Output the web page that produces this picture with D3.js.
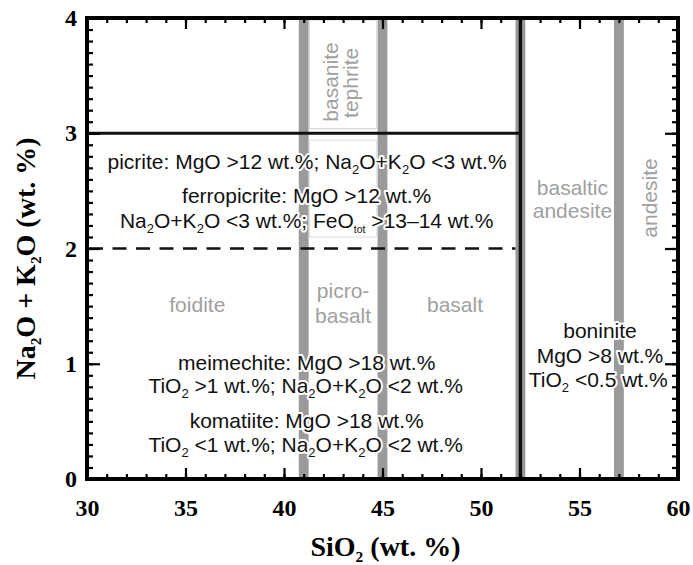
<!DOCTYPE html>
<html>
<head>
<meta charset="utf-8">
<script src="https://cdn.jsdelivr.net/npm/d3@7"></script>
<style>
  html, body { margin: 0; padding: 0; background: #fff; }
  svg { display: block; }
</style>
</head>
<body>
<svg id="chart" width="693" height="565"></svg>
<script>
// ---- data -------------------------------------------------------------
const siO2Domain = [30, 60];
const alkaliDomain = [0, 4];
const xMajorTicks = [30, 35, 40, 45, 50, 55, 60];
const yMajorTicks = [0, 1, 2, 3, 4];
const xMinorTicks = d3.range(30, 61, 1);
const yMinorTicks = d3.range(0, 41, 1).map(d => d / 10);
// SiO2 boundaries between the TAS fields (wt.%)
const fieldBoundariesSiO2 = [41, 45, 52, 57];
const ultramaficMaxSiO2 = 52;
// alkali limits (wt.%)
const picriteAlkaliMax = 3;
const komatiiteAlkaliMax = 2;

// ---- layout -----------------------------------------------------------
const svg = d3.select("#chart");
const x = d3.scaleLinear().domain(siO2Domain).range([87, 678]);
const y = d3.scaleLinear().domain(alkaliDomain).range([479, 18]);

const SANS = "'Liberation Sans', Arial, Helvetica, sans-serif";
const SERIF = "'Liberation Serif', 'Times New Roman', serif";
const GREY_BAND = "#9a9a9a";
const GREY_TEXT = "#a0a0a0";

svg.append("rect").attr("width", 693).attr("height", 565).attr("fill", "#fff");

// rich text helper: parts are strings or {sub: "..."}
function rich(textSel, parts, fontSize) {
  parts.forEach(p => {
    if (typeof p === "string") {
      textSel.append("tspan").text(p);
    } else {
      textSel.append("tspan")
        .attr("font-size", (p.scale || 0.62) * fontSize)
        .attr("baseline-shift", -fontSize * (p.shift || 0.22))
        .text(p.sub);
    }
  });
  return textSel;
}

// ---- field boundaries ------------------------------------------------
const plot = svg.append("g");

plot.selectAll("rect.band")
  .data(fieldBoundariesSiO2)
  .join("rect")
  .attr("class", "band")
  .attr("x", d => x(d - 0.25))
  .attr("width", d => x(d + 0.25) - x(d - 0.25))
  .attr("y", y(alkaliDomain[1]))
  .attr("height", y(alkaliDomain[0]) - y(alkaliDomain[1]))
  .attr("fill", GREY_BAND);

// light panels between the 41 and 45 boundaries
plot.append("rect")
  .attr("x", x(41.25) + 0.8).attr("width", x(44.75) - x(41.25) - 1.6)
  .attr("y", y(4) + 2).attr("height", y(picriteAlkaliMax + 0.04) - y(4) - 2)
  .attr("fill", "#fff").attr("stroke", "#dadada").attr("stroke-width", 1.3);
plot.append("rect")
  .attr("x", x(41.25) + 0.8).attr("width", x(44.75) - x(41.25) - 1.6)
  .attr("y", y(picriteAlkaliMax - 0.06)).attr("height", y(komatiiteAlkaliMax + 0.1) - y(picriteAlkaliMax - 0.06))
  .attr("fill", "#fff").attr("stroke", "#e2e2e2").attr("stroke-width", 1.2);

plot.append("line")
  .attr("x1", x(siO2Domain[0])).attr("x2", x(ultramaficMaxSiO2))
  .attr("y1", y(picriteAlkaliMax)).attr("y2", y(picriteAlkaliMax))
  .attr("stroke", "#111").attr("stroke-width", 3);

plot.append("line")
  .attr("x1", x(siO2Domain[0]) + 2).attr("x2", x(ultramaficMaxSiO2 - 0.25))
  .attr("y1", y(komatiiteAlkaliMax)).attr("y2", y(komatiiteAlkaliMax))
  .attr("stroke", "#111").attr("stroke-width", 2.5)
  .attr("stroke-dasharray", "14,9.5");

plot.append("line")
  .attr("x1", x(ultramaficMaxSiO2)).attr("x2", x(ultramaficMaxSiO2))
  .attr("y1", y(alkaliDomain[0])).attr("y2", y(alkaliDomain[1]))
  .attr("stroke", "#111").attr("stroke-width", 3.5);

// ---- field names (grey) ---------------------------------------------
const FS = 21;
const fieldNames = [
  { t: "foidite", sx: 35.6, ay: 1.448 },
  { t: "picro-", sx: 43.0, ay: 1.57 },
  { t: "basalt", sx: 43.0, ay: 1.354 },
  { t: "basalt", sx: 48.68, ay: 1.448 },
  { t: "basaltic", sx: 54.64, ay: 2.464 },
  { t: "andesite", sx: 54.64, ay: 2.265 }
];
plot.selectAll("text.field")
  .data(fieldNames)
  .join("text")
  .attr("class", "field")
  .attr("x", d => x(d.sx)).attr("y", d => y(d.ay))
  .attr("text-anchor", "middle")
  .attr("font-family", SANS).attr("font-size", FS)
  .attr("fill", GREY_TEXT)
  .text(d => d.t);

const verticalNames = [
  { t: "basanite", sx: 42.74, ay: 3.445 },
  { t: "tephrite", sx: 43.76, ay: 3.437 },
  { t: "andesite", sx: 58.93, ay: 2.438 }
];
plot.selectAll("text.vfield")
  .data(verticalNames)
  .join("text")
  .attr("class", "vfield")
  .attr("transform", d => `translate(${x(d.sx)},${y(d.ay)}) rotate(-90)`)
  .attr("text-anchor", "middle")
  .attr("font-family", SANS).attr("font-size", FS)
  .attr("fill", GREY_TEXT)
  .text(d => d.t);

// ---- rock definitions (black, haloed) -------------------------------
const definitions = [
  { sx: 41.17, ay: 2.69, parts: ["picrite: MgO >12 wt.%; Na", {sub: "2"}, "O+K", {sub: "2"}, "O <3 wt.%"] },
  { sx: 41.15, ay: 2.395, parts: ["ferropicrite: MgO >12 wt.%"] },
  { sx: 41.15, ay: 2.178, parts: ["Na", {sub: "2"}, "O+K", {sub: "2"}, "O <3 wt.%; FeO", {sub: "tot", scale: 0.5, shift: 0.26}, " >13\u201314 wt.%"] },
  { sx: 41.15, ay: 0.946, parts: ["meimechite: MgO >18 wt.%"] },
  { sx: 41.1, ay: 0.746, parts: ["TiO", {sub: "2"}, " >1 wt.%; Na", {sub: "2"}, "O+K", {sub: "2"}, "O <2 wt.%"] },
  { sx: 41.15, ay: 0.4425, parts: ["komatiite: MgO >18 wt.%"] },
  { sx: 41.1, ay: 0.234, parts: ["TiO", {sub: "2"}, " <1 wt.%; Na", {sub: "2"}, "O+K", {sub: "2"}, "O <2 wt.%"] },
  { sx: 56.04, ay: 1.223, parts: ["boninite"] },
  { sx: 56.04, ay: 1.006, parts: ["MgO >8 wt.%"] },
  { sx: 55.95, ay: 0.798, parts: ["TiO", {sub: "2"}, " <0.5 wt.%"] }
];
definitions.forEach(d => {
  const t = plot.append("text")
    .attr("x", x(d.sx)).attr("y", y(d.ay))
    .attr("text-anchor", "middle")
    .attr("font-family", SANS).attr("font-size", FS)
    .attr("fill", "#111")
    .attr("stroke", "#fff").attr("stroke-width", 4)
    .attr("stroke-linejoin", "round")
    .attr("paint-order", "stroke");
  rich(t, d.parts, FS);
});

// ---- axes -------------------------------------------------------------
function styleAxis(g) {
  g.select(".domain").remove();
  g.selectAll(".tick line").attr("stroke", "#000").attr("stroke-width", 2.2);
  g.selectAll(".tick text")
    .attr("font-family", SERIF).attr("font-weight", "bold")
    .attr("font-size", 24).attr("fill", "#000");
}
const H = y(0), T = y(4), L = x(30), R = x(60);

svg.append("g").attr("transform", `translate(0,${H})`)
  .call(d3.axisBottom(x).tickValues(xMinorTicks).tickSize(-5).tickFormat(""))
  .call(styleAxis);
svg.append("g").attr("transform", `translate(0,${H})`)
  .call(d3.axisBottom(x).tickValues(xMajorTicks).tickSize(-11).tickPadding(20).tickFormat(d3.format("d")))
  .call(styleAxis);
svg.append("g").attr("transform", `translate(0,${T})`)
  .call(d3.axisTop(x).tickValues(xMinorTicks).tickSize(-5).tickFormat(""))
  .call(styleAxis);
svg.append("g").attr("transform", `translate(0,${T})`)
  .call(d3.axisTop(x).tickValues(xMajorTicks).tickSize(-11).tickFormat(""))
  .call(styleAxis);

svg.append("g").attr("transform", `translate(${L},0)`)
  .call(d3.axisLeft(y).tickValues(yMinorTicks).tickSize(-6).tickFormat(""))
  .call(styleAxis);
svg.append("g").attr("transform", `translate(${L},0)`)
  .call(d3.axisLeft(y).tickValues(yMajorTicks).tickSize(-13).tickPadding(10).tickFormat(d3.format("d")))
  .call(styleAxis);
svg.append("g").attr("transform", `translate(${R},0)`)
  .call(d3.axisRight(y).tickValues(yMinorTicks).tickSize(-6).tickFormat(""))
  .call(styleAxis);
svg.append("g").attr("transform", `translate(${R},0)`)
  .call(d3.axisRight(y).tickValues(yMajorTicks).tickSize(-13).tickFormat(""))
  .call(styleAxis);

// frame
svg.append("rect")
  .attr("x", L).attr("y", T).attr("width", R - L).attr("height", H - T)
  .attr("fill", "none").attr("stroke", "#000").attr("stroke-width", 4);

// axis titles
const TFS = 28;
const xt = svg.append("text")
  .attr("x", (L + R) / 2 + 3).attr("y", 556)
  .attr("text-anchor", "middle")
  .attr("font-family", SERIF).attr("font-weight", "bold").attr("font-size", TFS);
rich(xt, ["SiO", {sub: "2", scale: 0.55, shift: 0.2}, " (wt. %)"], TFS);

const yt = svg.append("text")
  .attr("transform", `translate(35,${(T + H) / 2 + 10}) rotate(-90)`)
  .attr("text-anchor", "middle")
  .attr("font-family", SERIF).attr("font-weight", "bold").attr("font-size", TFS);
rich(yt, ["Na", {sub: "2", scale: 0.55, shift: 0.2}, "O + K", {sub: "2", scale: 0.55, shift: 0.2}, "O (wt. %)"], TFS);
</script>
</body>
</html>
